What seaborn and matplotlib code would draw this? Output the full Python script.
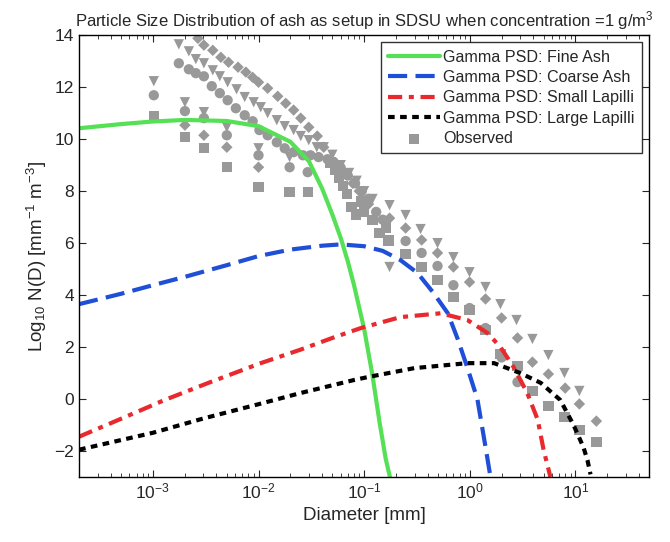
import numpy as np
import pandas as pd
import matplotlib
matplotlib.use("Agg")
import matplotlib.pyplot as plt
import seaborn as sns

# Gamma PSD curves (diameter in mm, log10 N(D))
fine_d = [2e-4, 5e-4, 1e-3, 2e-3, 5e-3, 1e-2, 2e-2, 3e-2, 4e-2, 5e-2, 6e-2, 7e-2,
          8e-2, 0.1, 0.12, 0.14, 0.16, 0.18]
fine_y = [10.42, 10.58, 10.68, 10.74, 10.70, 10.50, 9.90, 9.15, 8.1, 7.1, 6.2, 5.3,
          4.4, 2.7, 0.9, -0.9, -2.3, -3.2]

coarse_d = [2e-4, 5e-4, 1e-3, 2e-3, 5e-3, 1e-2, 2e-2, 4e-2, 6e-2, 0.1, 0.15, 0.22,
            0.32, 0.45, 0.62, 0.77, 0.95, 1.18, 1.41, 1.57]
coarse_y = [3.65, 4.05, 4.38, 4.7, 5.15, 5.5, 5.75, 5.9, 5.95, 5.88, 5.7, 5.35,
            4.85, 4.1, 3.3, 2.3, 1.2, 0.0, -1.85, -3.0]

small_d = [2e-4, 5e-4, 1.27e-3, 3.5e-3, 1.05e-2, 2.5e-2, 5e-2, 9.3e-2, 0.22, 0.53,
           0.95, 1.47, 1.95, 2.6, 3.5, 4.4, 5.0, 5.8]
small_y = [-1.45, -0.76, -0.05, 0.65, 1.38, 1.9, 2.35, 2.73, 3.15, 3.3,
           3.04, 2.54, 2.0, 1.23, 0.23, -0.8, -1.96, -3.0]

large_d = [2e-4, 1e-3, 3e-3, 1e-2, 2.5e-2, 8e-2, 0.11, 0.3, 0.95, 1.7, 3.0, 4.7,
           7.2, 9.6, 11.9, 13.0, 13.9]
large_y = [-1.95, -1.3, -0.75, -0.2, 0.23, 0.73, 0.85, 1.19, 1.38, 1.38, 1.0, 0.62,
           -0.04, -1.0, -1.85, -2.35, -2.9]

# observed spectra (grey markers)
sq_d = [1.02e-3, 2.01e-3, 3.04e-3, 5.01e-3, 1.0e-2, 1.97e-2, 2.92e-2,
        4.8e-2, 5.3e-2, 5.8e-2, 6.3e-2, 6.9e-2, 7.6e-2, 8.4e-2, 9.3e-2, 0.1, 0.12, 0.14,
        0.16, 0.17,
        0.247, 0.35, 0.495, 0.70, 0.995, 1.41, 1.95, 2.83, 3.92, 5.55, 7.87, 10.9, 15.8]
sq_y = [10.88, 10.08, 9.65, 8.92, 8.15, 7.96, 7.96,
        9.1, 8.8, 8.5, 8.2, 7.9, 7.4, 7.1, 7.6, 7.2, 6.9, 6.4,
        6.6, 6.1,
        5.58, 5.08, 4.58, 3.92, 3.42, 2.65, 1.73, 1.27, 0.31, -0.27, -0.69, -1.19, -1.65]

ci_d = [1.02e-3, 2.01e-3, 3.04e-3, 5.01e-3, 1.0e-2, 1.97e-2, 2.92e-2,
        1.76e-3, 2.19e-3, 2.55e-3, 3.04e-3, 3.61e-3, 4.30e-3, 5.1e-3, 6.1e-3, 7.4e-3,
        8.8e-3, 1.02e-2, 1.22e-2, 1.49e-2, 1.77e-2, 2.15e-2, 2.63e-2, 3.1e-2, 3.7e-2,
        4.5e-2, 5.15e-2, 6.0e-2, 7.0e-2, 8.2e-2, 9.5e-2, 0.11, 0.13, 0.15,
        0.247, 0.35, 0.495, 0.70, 0.995, 1.41, 2.0, 2.83]
ci_y = [11.69, 11.08, 10.81, 10.15, 9.38, 8.92, 8.73,
        12.92, 12.69, 12.54, 12.42, 12.04, 11.77, 11.5, 11.19, 10.92,
        10.69, 10.35, 10.15, 9.88, 9.65, 9.5, 9.38, 9.38, 9.31,
        9.23, 9.12, 8.9, 8.6, 8.3, 8.0, 7.7, 7.2, 6.9,
        6.08, 5.62, 5.12, 4.38, 3.5, 2.73, 1.6, 0.65]

di_d = [2.01e-3, 3.04e-3, 5.01e-3, 1.0e-2,
        2.67e-3, 3.04e-3, 3.69e-3, 4.4e-3, 5.2e-3, 6.4e-3, 7.6e-3, 8.8e-3, 1.0e-2,
        1.22e-2, 1.52e-2, 1.81e-2, 2.15e-2, 2.51e-2, 2.99e-2, 3.6e-2, 4.14e-2,
        5.5e-2, 6.5e-2, 7.8e-2, 9.0e-2, 0.11,
        0.174, 0.247, 0.35, 0.495, 0.70, 0.995, 1.41, 2.0, 2.83, 3.92, 5.55, 8.0,
        10.9, 15.8]
di_y = [10.54, 10.15, 9.69, 8.92,
        13.88, 13.62, 13.42, 13.15, 12.96, 12.77, 12.58, 12.38, 12.19,
        11.96, 11.65, 11.38, 11.12, 10.81, 10.46, 10.12, 9.69,
        9.0, 8.7, 8.3, 8.0, 7.5,
        6.96, 6.58, 6.12, 5.62, 5.08, 4.5, 3.85, 3.12, 2.35, 1.42, 0.96, 0.42,
        -0.19, -0.85]

tr_d = [1.02e-3, 2.01e-3, 3.04e-3, 5.01e-3, 1.0e-2, 1.97e-2,
        1.76e-3, 2.19e-3, 2.55e-3, 3.04e-3, 3.69e-3, 4.3e-3, 5.1e-3, 6.2e-3, 7.4e-3,
        9.0e-3, 1.05e-2, 1.22e-2, 1.49e-2, 1.77e-2, 2.15e-2, 2.51e-2, 2.99e-2,
        3.56e-2, 4.14e-2, 5.0e-2, 6.0e-2, 7.2e-2, 8.5e-2, 0.1, 0.12,
        0.174, 0.174, 0.247, 0.342, 0.495, 0.70, 0.995, 1.41, 1.95, 2.77, 3.92, 5.55,
        7.87, 10.9]
tr_y = [12.23, 11.42, 11.04, 10.46, 9.65, 9.31,
        13.65, 13.38, 13.08, 12.92, 12.65, 12.42, 12.19, 11.92, 11.62,
        11.42, 11.23, 11.0, 10.73, 10.5, 10.35, 10.12, 9.96,
        9.69, 9.69, 9.4, 9.0, 8.7, 8.4, 8.0, 7.7,
        7.46, 5.08, 7.08, 6.54, 6.0, 5.46, 4.88, 4.31, 3.65, 3.04, 2.31, 1.69,
        1.0, 0.31]

sns.set_style("ticks")
plt.rcParams['font.family'] = ['Liberation Sans', 'DejaVu Sans']
plt.rcParams['mathtext.default'] = 'regular'
plt.rcParams['xtick.direction'] = 'in'
plt.rcParams['ytick.direction'] = 'in'

fig = plt.figure(figsize=(6.7, 5.42), dpi=100)
ax = fig.add_axes([0.118, 0.120, 0.851, 0.815])

grey = '#999999'
lw = 3
sns.lineplot(x=fine_d, y=fine_y, color='#55e055', lw=lw, ax=ax, sort=False,
             label='Gamma PSD: Fine Ash')
sns.lineplot(x=coarse_d, y=coarse_y, color='#1f4fd6', lw=lw, ax=ax, sort=False,
             linestyle=(0, (4.6, 2.0)), label='Gamma PSD: Coarse Ash')
sns.lineplot(x=small_d, y=small_y, color='#e8292d', lw=lw, ax=ax, sort=False,
             linestyle=(0, (3.4, 1.6, 1.2, 1.6)), label='Gamma PSD: Small Lapilli')
sns.lineplot(x=large_d, y=large_y, color='black', lw=lw, ax=ax, sort=False,
             linestyle=(0, (1.6, 1.3)), label='Gamma PSD: Large Lapilli')

sns.scatterplot(x=ci_d, y=ci_y, marker='o', s=55, color=grey, edgecolor='none', ax=ax)
sns.scatterplot(x=di_d, y=di_y, marker='D', s=34, color=grey, edgecolor='none', ax=ax)
sns.scatterplot(x=tr_d, y=tr_y, marker='v', s=55, color=grey, edgecolor='none', ax=ax)
sns.scatterplot(x=sq_d, y=sq_y, marker='s', s=55, color=grey, edgecolor='none', ax=ax,
                label='Observed')

ax.set_xscale('log')
ax.set_xlim(2e-4, 50)
ax.set_ylim(-3, 14)
ax.set_yticks(range(-2, 15, 2))
ax.tick_params(which='both', top=True, right=True, labelsize=12.5, direction='in')
ax.tick_params(which='major', length=5)
ax.tick_params(which='minor', length=3)
for s in ax.spines.values():
    s.set_linewidth(1)
    s.set_color('black')

ax.set_xlabel('Diameter [mm]', fontsize=13.5)
ax.set_ylabel('Log$_{10}$ N(D) [mm$^{-1}$ m$^{-3}$]', fontsize=13.5)
ax.set_title('Particle Size Distribution of ash as setup in SDSU when concentration =1 g/m$^3$',
             fontsize=12, pad=6)

handles, labels = ax.get_legend_handles_labels()
leg = ax.legend(handles, labels, loc='upper right', fontsize=11.6, handlelength=3.2,
                handletextpad=0.2, frameon=True, fancybox=False, borderaxespad=0.45,
                labelspacing=0.33, borderpad=0.45)
leg.get_frame().set_edgecolor('black')
leg.get_frame().set_linewidth(1)

fig.savefig('out.png', dpi=100)
